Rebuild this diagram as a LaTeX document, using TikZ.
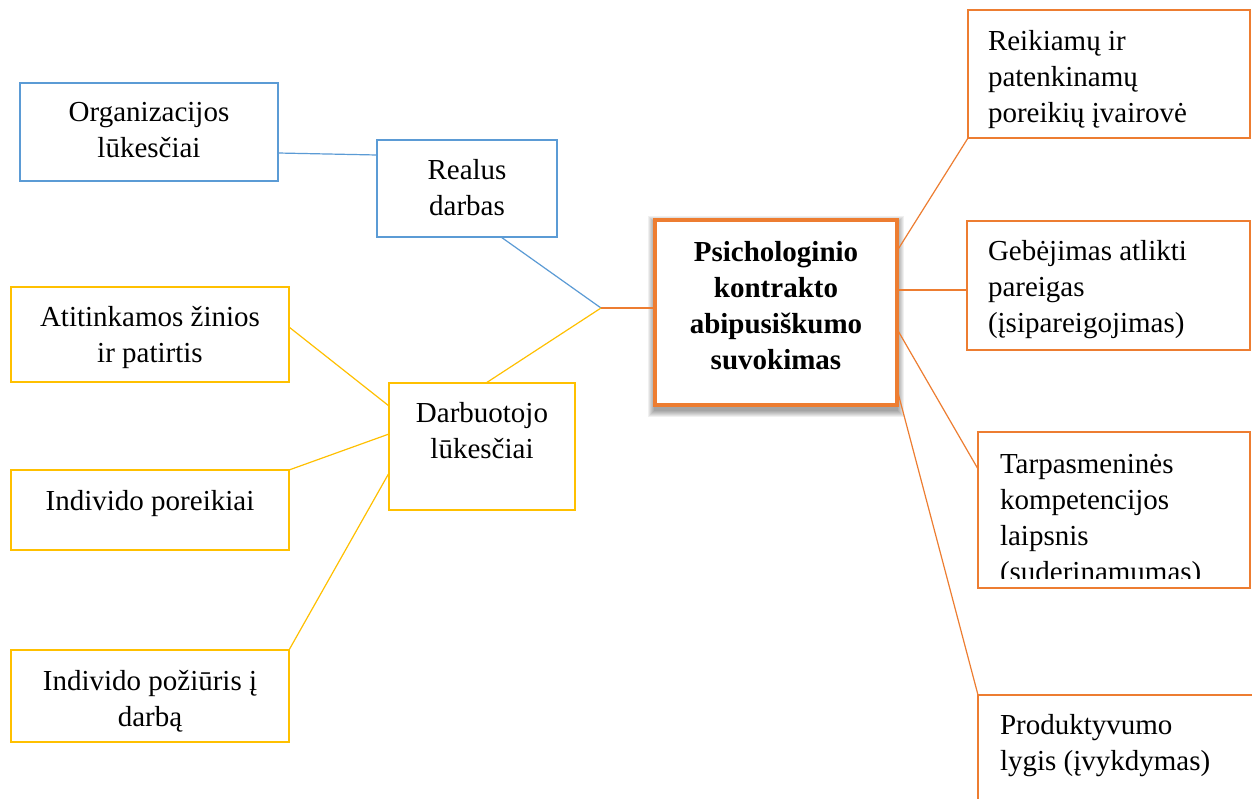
\documentclass[tikz,border=0pt]{standalone}
\usepackage{fontspec}
\setmainfont{Liberation Serif}
\definecolor{borange}{HTML}{ED7D31}
\definecolor{bblue}{HTML}{5B9BD5}
\definecolor{bgold}{HTML}{FFC000}
\tikzset{
  box/.style={draw=#1, line width=2.4pt, fill=white, rectangle, inner sep=0pt, outer sep=0pt},
  mainbox/.style={draw=borange, line width=4.5pt, fill=white, rectangle, inner sep=0pt, outer sep=0pt},
  txt/.style={inner sep=0pt, outer sep=0pt, align=center, anchor=north, font=\fontsize{29}{36}\selectfont},
  ltxt/.style={inner sep=0pt, outer sep=0pt, align=left, anchor=north west, font=\fontsize{29}{36}\selectfont},
  conn/.style={draw=#1, line width=1.2pt}
}
\begin{document}
\begin{tikzpicture}[x=1pt,y=-1pt]
\clip (0,0) rectangle (1252,798);
\fill[white] (0,0) rectangle (1252,798);
% left blue boxes
\node[box=bblue, minimum width=258pt, minimum height=98pt] (org) at (149,132) {};
\node[txt] (orgt) at (149,96) {\strut Organizacijos\\lūkesčiai};
\node[box=bblue, minimum width=180pt, minimum height=97pt] (real) at (467,188.5) {};
\node[txt] (realt) at (467,154) {\strut Realus\\darbas};
% gold boxes
\node[box=bgold, minimum width=278pt, minimum height=95pt] (ati) at (150,334.5) {};
\node[txt] (atit) at (150,301) {\strut Atitinkamos žinios\\ir patirtis};
\node[box=bgold, minimum width=186pt, minimum height=127pt] (darb) at (482,446.5) {};
\node[txt] (darbt) at (482,397) {\strut Darbuotojo\\lūkesčiai};
\node[box=bgold, minimum width=278pt, minimum height=80pt] (pore) at (150,510) {};
\node[txt] (poret) at (150,485) {\strut Individo poreikiai};
\node[box=bgold, minimum width=278pt, minimum height=92pt] (poz) at (150,696) {};
\node[txt] (pozt) at (150,665) {\strut Individo požiūris į\\darbą};
% blurred shadow of the central box
\foreach \i in {0,1,...,6}{
  \fill[black, opacity=0.06] (654-\i,222-\i) rectangle (898+\i,411+\i);
}
% central box
\node[mainbox, minimum width=242pt, minimum height=185pt] (psych) at (776,312.5) {};
\node[txt, font=\fontsize{29}{36}\selectfont\bfseries] (psycht) at (776,236) {\strut Psichologinio\\kontrakto\\abipusiškumo\\suvokimas};
% right orange boxes
\node[box=borange, minimum width=282pt, minimum height=128pt] (reik) at (1109,74) {};
\node[ltxt] (reikt) at (988,25) {\strut Reikiamų ir\\patenkinamų\\poreikių įvairovė};
\node[box=borange, minimum width=283pt, minimum height=129pt] (geb) at (1108.5,285.5) {};
\node[ltxt] (gebt) at (988,235) {\strut Gebėjimas atlikti\\pareigas\\(įsipareigojimas)};
\node[box=borange, minimum width=272pt, minimum height=156pt] (tarp) at (1114,510) {};
\begin{scope}
\clip (979,433) rectangle (1249,578);
\node[ltxt] (tarpt) at (1000,448) {\strut Tarpasmeninės\\kompetencijos\\laipsnis\\(suderinamumas)};
\end{scope}
\node[box=borange, minimum width=284pt, minimum height=115pt] (prod) at (1120,752.5) {};
\node[ltxt] (prodt) at (1000,709) {\strut Produktyvumo\\lygis (įvykdymas)};
% junction
\coordinate (J) at (601,308);
% connectors
\draw[conn=bblue] ([yshift=-21pt]org.east) -- ([yshift=33.5pt]real.west);
\draw[conn=bblue] ([xshift=34pt]real.south) -- (J);
\draw[conn=bgold] ([xshift=4pt]darb.north) -- (J);
\draw[conn=borange, line width=1.6pt] (J) -- (psych.west |- J);
\draw[conn=bgold] ([yshift=7.5pt]ati.east) -- ([yshift=40.5pt]darb.west);
\draw[conn=bgold] (pore.north east) -- ([yshift=12.5pt]darb.west);
\draw[conn=bgold] (poz.north east) -- ([yshift=-26.5pt]darb.west);
\draw[conn=borange] ([yshift=61.5pt]psych.east) -- (reik.south west);
\draw[conn=borange] ([yshift=22.5pt]psych.east) -- ([yshift=-4.5pt]geb.west);
\draw[conn=borange] ([yshift=-16.5pt]psych.east) -- ([yshift=41pt]tarp.west);
\draw[conn=borange] ([yshift=-76.5pt]psych.east) -- (prod.north west);
\end{tikzpicture}
\end{document}
